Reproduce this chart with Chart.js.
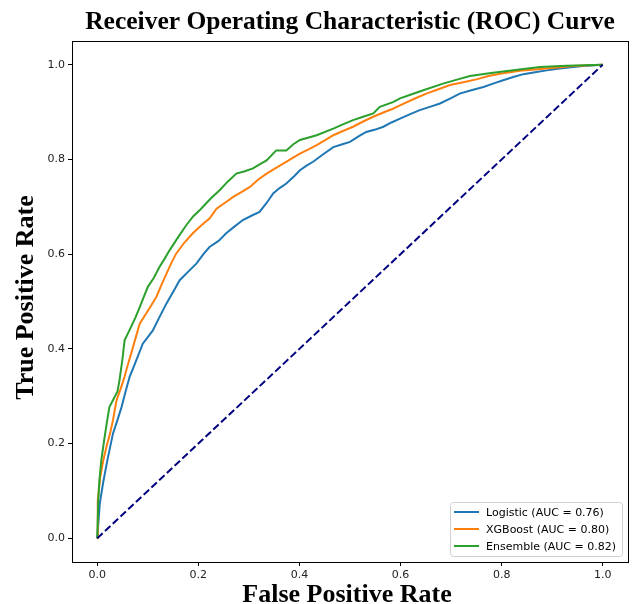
<!DOCTYPE html>
<html>
<head>
<meta charset="utf-8">
<script src="https://cdn.jsdelivr.net/npm/chart.js@4.4.1/dist/chart.umd.min.js"></script>
<style>
  html, body { margin: 0; padding: 0; background: #fff; }
  canvas { display: block; }
</style>
</head>
<body>
<canvas id="roc" width="637" height="604"></canvas>
<script>
// ROC curve data
const titleText = 'Receiver Operating Characteristic (ROC) Curve';
const xTitle = 'False Positive Rate';
const yTitle = 'True Positive Rate';
const axisTicks = [0, 0.2, 0.4, 0.6, 0.8, 1.0];

const logisticLabel = 'Logistic (AUC = 0.76)';
const logisticFpr = [0, 0.002, 0.005, 0.012, 0.02, 0.031, 0.04, 0.048, 0.056, 0.064, 0.075, 0.09, 0.1, 0.11, 0.122, 0.137, 0.15, 0.163, 0.18, 0.196, 0.21, 0.222, 0.24, 0.255, 0.27, 0.288, 0.305, 0.321, 0.335, 0.348, 0.36, 0.374, 0.39, 0.401, 0.414, 0.427, 0.447, 0.467, 0.485, 0.5, 0.516, 0.532, 0.55, 0.566, 0.582, 0.599, 0.618, 0.638, 0.658, 0.678, 0.697, 0.717, 0.74, 0.764, 0.783, 0.803, 0.823, 0.843, 0.866, 0.889, 0.915, 0.942, 0.97, 1.0];
const logisticTpr = [0, 0.03, 0.074, 0.12, 0.165, 0.221, 0.25, 0.277, 0.31, 0.341, 0.37, 0.411, 0.425, 0.439, 0.465, 0.496, 0.52, 0.545, 0.563, 0.58, 0.6, 0.615, 0.628, 0.644, 0.657, 0.672, 0.681, 0.689, 0.708, 0.728, 0.739, 0.749, 0.765, 0.777, 0.787, 0.795, 0.811, 0.826, 0.832, 0.837, 0.848, 0.858, 0.863, 0.869, 0.878, 0.886, 0.895, 0.904, 0.911, 0.918, 0.928, 0.939, 0.946, 0.953, 0.96, 0.967, 0.974, 0.98, 0.984, 0.988, 0.992, 0.995, 0.998, 1.0];

const xgbLabel = 'XGBoost (AUC = 0.80)';
const xgbFpr = [0, 0.001, 0.006, 0.012, 0.018, 0.025, 0.031, 0.038, 0.046, 0.054, 0.06, 0.067, 0.075, 0.084, 0.097, 0.107, 0.117, 0.127, 0.137, 0.146, 0.156, 0.172, 0.189, 0.205, 0.222, 0.236, 0.252, 0.269, 0.285, 0.302, 0.318, 0.335, 0.352, 0.368, 0.385, 0.401, 0.418, 0.434, 0.45, 0.467, 0.486, 0.506, 0.526, 0.546, 0.566, 0.585, 0.599, 0.625, 0.651, 0.675, 0.698, 0.724, 0.75, 0.774, 0.797, 0.836, 0.889, 0.942, 1.0];
const xgbTpr = [0, 0.08, 0.13, 0.165, 0.193, 0.22, 0.249, 0.291, 0.315, 0.341, 0.365, 0.39, 0.42, 0.453, 0.475, 0.492, 0.51, 0.535, 0.559, 0.58, 0.601, 0.624, 0.644, 0.66, 0.675, 0.696, 0.708, 0.721, 0.731, 0.742, 0.757, 0.77, 0.781, 0.791, 0.802, 0.812, 0.821, 0.83, 0.84, 0.851, 0.86, 0.869, 0.88, 0.89, 0.899, 0.907, 0.914, 0.927, 0.939, 0.948, 0.957, 0.963, 0.969, 0.976, 0.981, 0.987, 0.992, 0.997, 1.0];

const ensembleLabel = 'Ensemble (AUC = 0.82)';
const ensembleFpr = [0, 0.002, 0.004, 0.008, 0.014, 0.019, 0.024, 0.034, 0.04, 0.044, 0.05, 0.054, 0.064, 0.075, 0.084, 0.1, 0.112, 0.123, 0.133, 0.143, 0.16, 0.176, 0.19, 0.203, 0.209, 0.225, 0.242, 0.258, 0.275, 0.292, 0.308, 0.322, 0.335, 0.354, 0.374, 0.388, 0.401, 0.434, 0.467, 0.486, 0.506, 0.526, 0.546, 0.559, 0.585, 0.599, 0.618, 0.645, 0.684, 0.71, 0.737, 0.783, 0.823, 0.876, 0.929, 1.0];
const ensembleTpr = [0, 0.08, 0.12, 0.165, 0.21, 0.245, 0.277, 0.298, 0.31, 0.334, 0.38, 0.418, 0.44, 0.465, 0.488, 0.531, 0.55, 0.573, 0.59, 0.608, 0.636, 0.661, 0.68, 0.693, 0.7, 0.718, 0.735, 0.753, 0.77, 0.775, 0.781, 0.79, 0.798, 0.819, 0.819, 0.832, 0.841, 0.851, 0.865, 0.874, 0.883, 0.89, 0.897, 0.911, 0.921, 0.929, 0.936, 0.946, 0.96, 0.968, 0.976, 0.983, 0.988, 0.995, 0.998, 1.0];

const chanceFpr = [0, 1];
const chanceTpr = [0, 1];

const legendOrder = [logisticLabel, xgbLabel, ensembleLabel];

const toPoints = (xs, ys) => xs.map((x, i) => ({ x: x, y: ys[i] }));

const serif = "'Liberation Serif', 'Times New Roman', serif";
const sans = "'DejaVu Sans', sans-serif";

// frame, titles and legend drawn by hand so they sit like matplotlib's
const framePlugin = {
    id: 'frame',
    afterDraw(chart) {
        const ctx = chart.ctx;
        const a = chart.chartArea;
        const cx = (a.left + a.right) / 2;
        const cy = (a.top + a.bottom) / 2;
        ctx.save();
        ctx.strokeStyle = '#000';
        ctx.lineWidth = 1;
        ctx.strokeRect(Math.round(a.left) + 0.5, Math.round(a.top) + 0.5,
            Math.round(a.right - a.left), Math.round(a.bottom - a.top));

        ctx.fillStyle = '#000';
        ctx.textAlign = 'center';
        ctx.textBaseline = 'alphabetic';
        ctx.font = 'bold 25.5px ' + serif;
        ctx.fillText(titleText, cx, 28.5);
        ctx.font = 'bold 26px ' + serif;
        ctx.fillText(xTitle, cx - 3, 602);
        ctx.save();
        ctx.translate(33, cy - 4);
        ctx.rotate(-Math.PI / 2);
        ctx.fillText(yTitle, 0, 0);
        ctx.restore();

        // legend
        const items = legendOrder.map(l => chart.data.datasets.find(d => d.label === l));
        ctx.font = '11px ' + sans;
        let textW = 0;
        items.forEach(d => { textW = Math.max(textW, ctx.measureText(d.label).width); });
        const rowH = 17;
        const boxW = 36 + textW + 6;
        const boxH = items.length * rowH + 3;
        const bx = a.right - 6 - boxW;
        const by = a.bottom - 6 - boxH;
        ctx.fillStyle = 'rgba(255,255,255,0.8)';
        ctx.strokeStyle = '#d0d0d0';
        ctx.lineWidth = 1;
        ctx.beginPath();
        ctx.roundRect(Math.round(bx) + 0.5, Math.round(by) + 0.5, Math.round(boxW), Math.round(boxH), 3);
        ctx.fill();
        ctx.stroke();
        ctx.textAlign = 'left';
        ctx.textBaseline = 'middle';
        items.forEach((d, i) => {
            const ly = by + 10 + i * rowH;
            ctx.strokeStyle = d.borderColor;
            ctx.lineWidth = 2;
            ctx.beginPath();
            ctx.moveTo(bx + 4, ly);
            ctx.lineTo(bx + 29, ly);
            ctx.stroke();
            ctx.fillStyle = '#000';
            ctx.fillText(d.label, bx + 36, ly + 1);
        });
        ctx.restore();
    }
};

const axisCommon = {
    type: 'linear',
    min: -0.05,
    max: 1.05,
    afterBuildTicks(scale) { scale.ticks = axisTicks.map(v => ({ value: v })); },
    ticks: {
        font: { family: sans, size: 11 },
        color: '#222',
        padding: 3,
        callback: v => v.toFixed(1)
    },
    grid: { display: true, drawOnChartArea: false, drawTicks: true, tickLength: 4, color: '#000' },
    border: { display: true, color: '#000' }
};

new Chart(document.getElementById('roc'), {
    type: 'scatter',
    data: {
        datasets: [
            { label: 'chance', data: toPoints(chanceFpr, chanceTpr), borderColor: '#000080', borderWidth: 2, borderDash: [7.4, 3.2], order: 0 },
            { label: ensembleLabel, data: toPoints(ensembleFpr, ensembleTpr), borderColor: '#2ca02c', borderWidth: 2, order: 1 },
            { label: xgbLabel, data: toPoints(xgbFpr, xgbTpr), borderColor: '#ff7f0e', borderWidth: 2, order: 2 },
            { label: logisticLabel, data: toPoints(logisticFpr, logisticTpr), borderColor: '#1f77b4', borderWidth: 2, order: 3 }
        ].map(d => Object.assign(d, { showLine: true, pointRadius: 0, tension: 0, fill: false }))
    },
    options: {
        responsive: false,
        animation: false,
        layout: { padding: { top: 41, right: 9, left: 0, bottom: 0 } },
        plugins: {
            legend: { display: false },
            tooltip: { enabled: false }
        },
        scales: {
            x: Object.assign({}, axisCommon, {
                afterFit(scale) { scale.height = 42; }
            }),
            y: Object.assign({}, axisCommon, {
                afterFit(scale) { scale.width = 72; }
            })
        }
    },
    plugins: [framePlugin]
});
</script>
</body>
</html>
